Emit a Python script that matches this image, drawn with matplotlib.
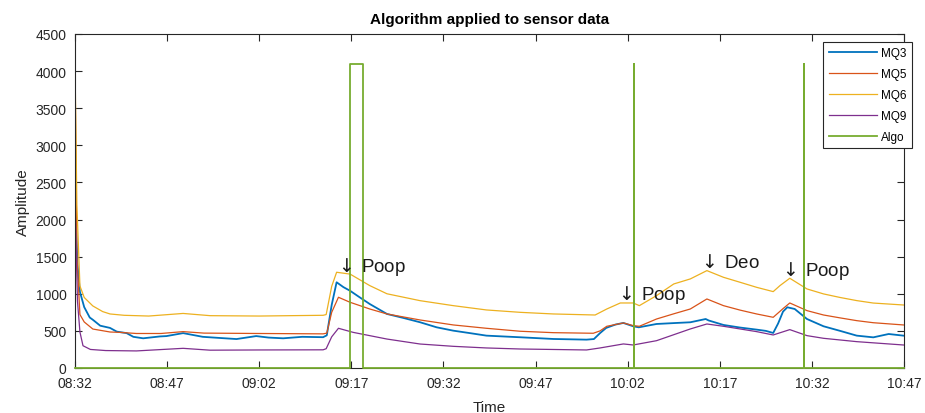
import matplotlib
matplotlib.use("Agg")
import matplotlib.pyplot as plt

# minutes after 08:32
mq3_t = [0, 0.4, 0.8, 1.5, 2.4, 2.9, 4.1, 5.7, 6.8, 8.4, 9.5, 11.1, 13.8, 14.9, 17.6,
         20.8, 23.5, 26.3, 29.5, 31.5, 33.9, 37, 40.4, 41.0, 41.8, 42.6, 43.7, 44.8,
         46.4, 48, 50.8, 53.5, 56.2, 58.9, 61.6, 64.3, 67, 72.5, 77.9, 83.3, 84.5,
         85.5, 86.5, 88, 89.3, 90.9, 91.8, 94.7, 97.5, 100.2, 102.7, 103.2, 105.6,
         108.3, 111.0, 112.5, 113.7, 114.5, 115.3, 116.0, 117.2, 119.2, 121.9, 124.6,
         127.3, 130.0, 132.5, 134.9]
mq3_v = [2300, 1400, 1025, 820, 680, 650, 570, 540, 490, 470, 420, 400, 425, 430, 470,
         420, 405, 390, 430, 410, 400, 420, 415, 440, 850, 1155, 1090, 1040,
         950, 862, 728, 674, 616, 548, 503, 470, 436, 414, 391, 382, 390,
         470, 540, 585, 607, 562, 548, 593, 605, 616, 660, 640, 580,
         545, 517, 500, 472, 600, 760, 818, 795, 660, 562, 500,
         436, 413, 458, 436]

mq5_t = [0, 0.3, 0.8, 1.5, 2.9, 5.7, 7.3, 10, 14, 17.6, 21, 30, 40.4, 41.0, 41.8, 42.9,
         44.8, 48, 50.8, 56.2, 61.6, 67, 72.5, 77.9, 84.4, 85.5, 86.6, 89.3, 90.9, 91.9,
         94.7, 97.5, 100.2, 102.9, 105.6, 108.3, 111.0, 113.7, 115.3, 116.4, 119.2,
         121.9, 124.6, 127.3, 130.0, 134.9]
mq5_v = [4090, 1500, 720, 620, 525, 485, 480, 465, 465, 490, 470, 465, 460, 470, 750, 953,
         885, 795, 728, 647, 580, 535, 495, 476, 468, 500, 562, 607, 571, 562,
         660, 730, 795, 930, 840, 780, 728, 683, 800, 876, 773,
         714, 675, 638, 610, 580]

mq6_t = [0, 0.3, 0.8, 1.5, 2.9, 4.5, 5.7, 8, 12, 17.6, 22, 30, 35, 40.4, 40.9, 41.8, 42.6,
         44.8, 48, 50.8, 56.2, 61.6, 67, 72.5, 77.9, 84.7, 86.6, 88.8, 90.9, 91.9, 94.7,
         97.5, 100.2, 102.9, 105.6, 108.3, 111.0, 113.7, 114.8, 116.4, 119.2, 121.9,
         124.6, 127.3, 130, 134.9]
mq6_v = [4080, 2200, 1105, 950, 836, 760, 728, 710, 700, 735, 705, 700, 705, 710, 720, 1100, 1290,
         1265, 1110, 1000, 907, 840, 782, 750, 728, 714, 795, 876, 876, 840, 975,
         1132, 1200, 1312, 1222, 1155, 1087, 1029, 1110, 1209, 1065, 998,
         950, 908, 875, 849]

mq9_t = [0, 0.4, 0.8, 1.3, 2.5, 5, 10, 17.6, 22, 30, 40.4, 40.9, 41.8, 42.9, 45.3, 50.8,
         56.2, 61.6, 67, 72.5, 83.3, 85.5, 89.3, 90.9, 94.7, 100.2, 102.9, 105.6, 111.0,
         113.7, 116.4, 119.2, 121.9, 127.3, 134.9]
mq9_v = [2250, 900, 485, 300, 250, 235, 230, 265, 240, 243, 245, 260, 420, 535, 480, 390,
         323, 292, 270, 256, 243, 270, 324, 310, 368, 526, 593, 562, 490,
         445, 517, 436, 400, 355, 310]

algo_t = [0, 44.8, 44.8, 46.85, 46.85, 91.0, 91.0, 91.08, 91.08, 118.7, 118.7, 118.78, 118.78, 135]
algo_v = [0, 0, 4095, 4095, 0, 0, 4095, 4095, 0, 0, 4095, 4095, 0, 0]

tick_pos = [0, 15, 30, 45, 60, 75, 90, 105, 120, 135]
tick_labels = ["08:32", "08:47", "09:02", "09:17", "09:32", "09:47", "10:02", "10:17", "10:32", "10:47"]

notes = [r"$\downarrow\,$Poop", r"$\downarrow\,$Poop", r"$\downarrow\,$Deo", r"$\downarrow\,$Poop"]
note_t = [42.4, 87.9, 101.4, 114.7]
note_v = [1375, 997, 1429, 1325]

plt.rcParams['font.family'] = ['Liberation Sans', 'DejaVu Sans']
gray = "#262626"

fig = plt.figure(figsize=(9.25, 4.14), dpi=100)
ax = fig.add_axes([0.0811, 0.1087, 0.9773 - 0.0811, 0.9155 - 0.1087])

ax.plot(mq3_t, mq3_v, color="#0072BD", lw=1.3, label="MQ3")
ax.plot(mq5_t, mq5_v, color="#D95319", lw=0.9, label="MQ5")
ax.plot(mq6_t, mq6_v, color="#EDB120", lw=0.9, label="MQ6")
ax.plot(mq9_t, mq9_v, color="#7E2F8E", lw=0.9, label="MQ9")
ax.plot(algo_t, algo_v, color="#77AC30", lw=1.3, label="Algo", zorder=3, clip_on=False)

for s, t, v in zip(notes, note_t, note_v):
    ax.text(t, v, s, fontsize=13.5, ha="left", va="center", color="#1a1a1a")

ax.set_xlim(0, 135)
ax.set_ylim(0, 4500)
ax.set_xticks(tick_pos)
ax.set_xticklabels(tick_labels)
ax.set_yticks(range(0, 4501, 500))
ax.tick_params(direction="in", length=5, width=0.8, top=True, right=True,
               labelsize=10, colors=gray, pad=6)
for sp in ax.spines.values():
    sp.set_color(gray)
    sp.set_linewidth(0.8)

ax.set_title("Algorithm applied to sensor data", fontsize=11, fontweight="bold", color="black", pad=8)
ax.set_xlabel("Time", fontsize=11, color=gray, labelpad=7)
ax.set_ylabel("Amplitude", fontsize=11, color=gray, labelpad=4)

leg = ax.legend(loc="upper right", bbox_to_anchor=(0.986, 0.896), bbox_transform=fig.transFigure,
                borderaxespad=0, fontsize=8.5, handlelength=4.1, labelspacing=0.75,
                fancybox=False, framealpha=1, edgecolor=gray, borderpad=0.45,
                handletextpad=0.35)
leg.get_frame().set_linewidth(0.8)

fig.savefig("out.png", dpi=100)
